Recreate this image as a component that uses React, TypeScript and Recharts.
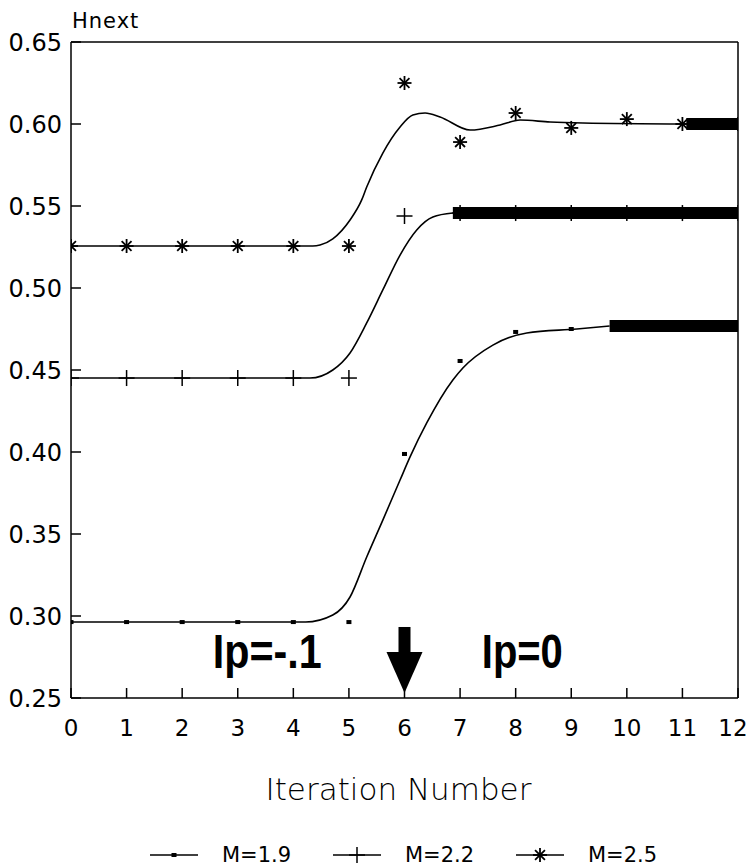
import React from "react";
import {
  ComposedChart,
  Line,
  Scatter,
  XAxis,
  YAxis,
  ReferenceLine,
  ReferenceDot,
  Legend,
} from "recharts";

// iteration markers (one per iteration)
const ITERATIONS = [0, 1, 2, 3, 4, 5, 6, 7, 8, 9, 10, 11, 12];
const M19_VALUES = [0.2963, 0.2963, 0.2963, 0.2963, 0.2963, 0.2963, 0.3988, 0.4555, 0.4732, 0.475, 0.4768, 0.4768, 0.4768];
const M22_VALUES = [0.4451, 0.4451, 0.4451, 0.4451, 0.4451, 0.4451, 0.5439, 0.5457, 0.5457, 0.5457, 0.5457, 0.5457, 0.5457];
const M25_VALUES = [0.5256, 0.5256, 0.5256, 0.5256, 0.5256, 0.5256, 0.625, 0.589, 0.6067, 0.5976, 0.603, 0.6, 0.6];

// smoothed curves
const M19_CURVE_X = [0, 4.22, 4.71, 5.02, 5.32, 5.61, 5.92, 6.1, 6.4, 6.87, 7.05, 7.59, 8.2, 9.1, 9.69];
const M19_CURVE_Y = [0.2963, 0.2963, 0.3006, 0.3116, 0.336, 0.3585, 0.3829, 0.397, 0.4177, 0.4439, 0.4512, 0.4652, 0.4726, 0.475, 0.4768];
const M22_CURVE_X = [0, 4.3, 4.71, 5.02, 5.32, 5.61, 5.92, 6.22, 6.51, 6.87];
const M22_CURVE_Y = [0.4451, 0.4451, 0.45, 0.4604, 0.4787, 0.4988, 0.5201, 0.5354, 0.5433, 0.5457];
const M25_CURVE_X = [0, 4.35, 4.48, 4.71, 5.02, 5.23, 5.32, 5.61, 5.92, 6.15, 6.37, 6.64, 7.18, 7.72, 8.08, 8.62, 9.21, 11.07];
const M25_CURVE_Y = [0.5256, 0.5256, 0.5262, 0.53, 0.5415, 0.5537, 0.5616, 0.5823, 0.5982, 0.6055, 0.6067, 0.6043, 0.5963, 0.5994, 0.6024, 0.6012, 0.6006, 0.6];

// converged stretches, drawn as heavy bars
const M19_BAR_X = [9.69, 12];
const M19_BAR_Y = [0.4768, 0.4768];
const M22_BAR_X = [6.87, 12];
const M22_BAR_Y = [0.5457, 0.5457];
const M25_BAR_X = [11.07, 12];
const M25_BAR_Y = [0.6, 0.6];

const Y_TICKS = [0.25, 0.3, 0.35, 0.4, 0.45, 0.5, 0.55, 0.6, 0.65];
const SERIES_NAMES = ["M=1.9", "M=2.2", "M=2.5"];

const NOTES = [
  { x: 3.53, y: 0.2683, text: "Ip=-.1", len: 109 },
  { x: 8.12, y: 0.2683, text: "Ip=0", len: 81 },
];
const ARROW = { x: 6, y: 0.2933 };

const FONT = "'DejaVu Sans', 'Liberation Sans', sans-serif";

const pts = (xs: number[], ys: number[]) => xs.map((x, i) => ({ x, y: ys[i] }));

const DotMark = ({ cx, cy }: any) => (
  <rect x={cx - 2.5} y={cy - 2} width={5} height={4} fill="#000" />
);

const PlusMark = ({ cx, cy }: any) => (
  <g stroke="#000" strokeWidth={1.5}>
    <line x1={cx - 8} y1={cy} x2={cx + 8} y2={cy} />
    <line x1={cx} y1={cy - 8} x2={cx} y2={cy + 8} />
  </g>
);

const StarMark = ({ cx, cy }: any) => {
  const r = 7;
  const d = r * 0.7071;
  return (
    <g stroke="#000" strokeWidth={1.8}>
      <line x1={cx - r} y1={cy} x2={cx + r} y2={cy} />
      <line x1={cx} y1={cy - r} x2={cx} y2={cy + r} />
      <line x1={cx - d} y1={cy - d} x2={cx + d} y2={cy + d} />
      <line x1={cx - d} y1={cy + d} x2={cx + d} y2={cy - d} />
    </g>
  );
};

const MARKS = [DotMark, PlusMark, StarMark];

const noteShape = (text: string, len: number) => ({ cx, cy }: any) => (
  <text
    x={cx}
    y={cy}
    textAnchor="middle"
    textLength={len}
    lengthAdjust="spacingAndGlyphs"
    fontFamily="'Liberation Sans Narrow', 'Liberation Sans', Arial, sans-serif"
    fontWeight="bold"
    fontSize={48}
    fill="#000"
  >
    {text}
  </text>
);

const ArrowShape = ({ cx, cy }: any) => (
  <g fill="#000">
    <rect x={cx - 6} y={cy} width={12} height={26} />
    <polygon points={`${cx - 18},${cy + 25} ${cx + 18},${cy + 25} ${cx},${cy + 66}`} />
  </g>
);

// x tick label; the last one is nudged left so it stays inside the page
const XTick = ({ x, y, payload }: any) => (
  <text
    x={payload.value === 12 ? x - 5 : x}
    y={y + 17}
    textAnchor="middle"
    fontFamily={FONT}
    fontSize={23}
    fill="#000"
  >
    {payload.value}
  </text>
);

const HnextLabel = ({ viewBox }: any) => (
  <text
    x={viewBox.x + viewBox.width + 1}
    y={viewBox.y - 14}
    fontFamily={FONT}
    fontSize={21}
    letterSpacing={1}
    fill="#000"
  >
    Hnext
  </text>
);

const XLabel = ({ viewBox }: any) => (
  <text
    x={viewBox.x + viewBox.width / 2 - 6}
    y={viewBox.y + 102}
    textAnchor="middle"
    fontFamily={FONT}
    fontWeight={300}
    fontSize={31}
    fill="#000"
  >
    Iteration Number
  </text>
);

const LegendContent = () => (
  <div
    style={{
      display: "flex",
      alignItems: "center",
      height: 50,
      boxSizing: "border-box",
      paddingTop: 24,
      paddingLeft: 142,
      fontFamily: FONT,
      fontSize: 21,
      lineHeight: "22px",
      color: "#000",
    }}
  >
    {SERIES_NAMES.map((name, i) => {
      const Mark = MARKS[i];
      return (
        <div key={name} style={{ display: "flex", alignItems: "center", width: 183 }}>
          <svg width={48} height={22}>
            <line x1={0} y1={11} x2={48} y2={11} stroke="#000" strokeWidth={1.5} />
            <Mark cx={24} cy={11} />
          </svg>
          <span style={{ marginLeft: 24 }}>{name}</span>
        </div>
      );
    })}
  </div>
);

export default function App() {
  const markers = [M19_VALUES, M22_VALUES, M25_VALUES].map((v) => pts(ITERATIONS, v));
  const curves = [
    pts(M19_CURVE_X, M19_CURVE_Y),
    pts(M22_CURVE_X, M22_CURVE_Y),
    pts(M25_CURVE_X, M25_CURVE_Y),
  ];
  const bars = [
    pts(M19_BAR_X, M19_BAR_Y),
    pts(M22_BAR_X, M22_BAR_Y),
    pts(M25_BAR_X, M25_BAR_Y),
  ];

  return (
    <div style={{ position: "absolute", left: 0, top: 0, background: "#fff" }}>
      <ComposedChart
        width={751}
        height={868}
        margin={{ top: 42, right: 13, left: 8, bottom: 0 }}
      >
        <XAxis
          type="number"
          dataKey="x"
          domain={[0, 12]}
          ticks={ITERATIONS}
          allowDataOverflow
          height={120}
          tickSize={-10}
          tickMargin={31}
          stroke="#000"
          strokeWidth={1.5}
          tick={XTick}
          label={{ content: XLabel }}
        />
        <YAxis
          type="number"
          dataKey="y"
          domain={[0.25, 0.65]}
          ticks={Y_TICKS}
          allowDataOverflow
          width={63}
          tickSize={-10}
          tickMargin={19}
          tickFormatter={(v: number) => v.toFixed(2)}
          stroke="#000"
          strokeWidth={1.5}
          tick={{ fill: "#000", fontSize: 24, fontFamily: FONT }}
          label={{ content: HnextLabel }}
        />
        <ReferenceLine y={0.65} stroke="#000" strokeWidth={1.5} />
        <ReferenceLine x={12} stroke="#000" strokeWidth={1.5} />

        {curves.map((data, i) => (
          <Line
            key={`curve-${i}`}
            data={data}
            dataKey="y"
            type="monotone"
            stroke="#000"
            strokeWidth={1.6}
            dot={false}
            activeDot={false}
            legendType="none"
            isAnimationActive={false}
          />
        ))}
        {bars.map((data, i) => (
          <Line
            key={`bar-${i}`}
            data={data}
            dataKey="y"
            type="linear"
            stroke="#000"
            strokeWidth={12}
            strokeLinecap="butt"
            dot={false}
            activeDot={false}
            legendType="none"
            isAnimationActive={false}
          />
        ))}
        {markers.map((data, i) => (
          <Scatter
            key={`mark-${i}`}
            name={SERIES_NAMES[i]}
            data={data}
            dataKey="y"
            shape={MARKS[i]}
            isAnimationActive={false}
          />
        ))}

        {NOTES.map((n) => (
          <ReferenceDot key={n.text} x={n.x} y={n.y} shape={noteShape(n.text, n.len)} />
        ))}
        <ReferenceDot x={ARROW.x} y={ARROW.y} shape={ArrowShape} />

        <Legend verticalAlign="bottom" height={50} content={LegendContent} />
      </ComposedChart>
    </div>
  );
}
